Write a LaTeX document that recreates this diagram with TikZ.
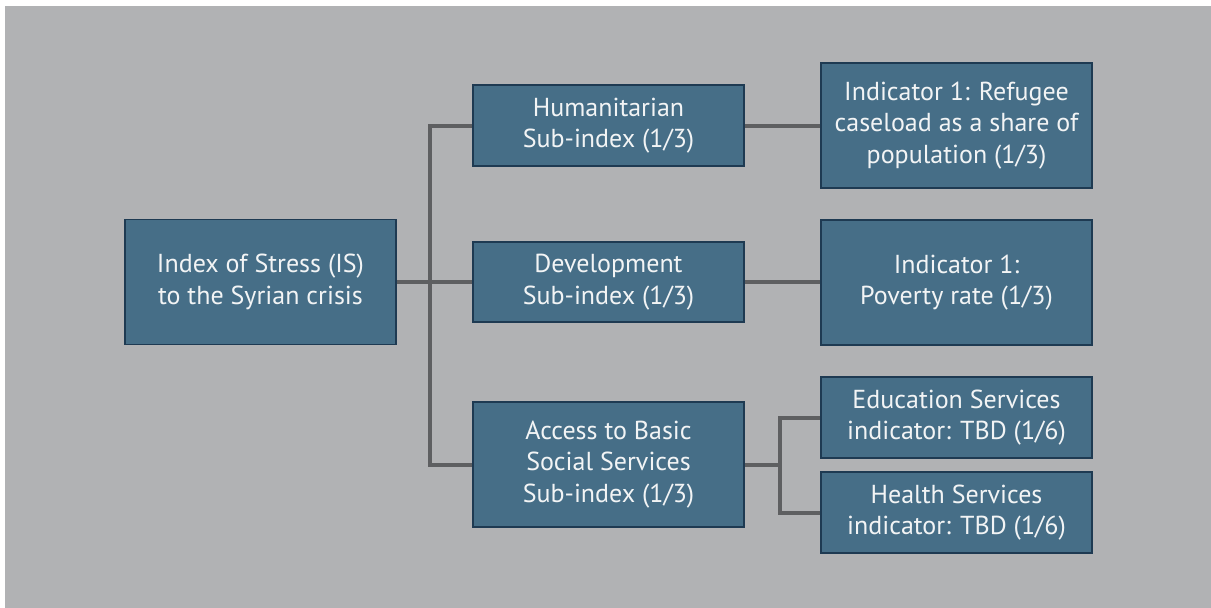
\documentclass[tikz,border=0pt]{standalone}
\usepackage{fontspec}
\setmainfont{PT Sans}
\usetikzlibrary{backgrounds}
\definecolor{bggray}{HTML}{B1B2B4}
\definecolor{boxfill}{HTML}{466E87}
\definecolor{boxline}{HTML}{1E3A52}
\definecolor{connline}{HTML}{5E5F61}
\definecolor{txt}{HTML}{F2F4F5}
\begin{document}
\begin{tikzpicture}[x=1pt,y=-1pt,
  boxnode/.style={draw=boxline, fill=boxfill, line width=1.5pt, text=txt,
    minimum width=271pt, inner sep=0pt, align=center,
    font=\fontsize{26}{31.5}\selectfont},
  conn/.style={draw=connline, line width=4pt, line join=miter}]
\useasboundingbox (0,0) rectangle (1211,608);
\coordinate (j1) at (430,282);
\coordinate (j2) at (780,464.5);
\node[boxnode, minimum height=125pt] (root) at (260.5,282) {Index of Stress (IS)\\to the Syrian crisis};
\node[boxnode, minimum height=81pt] (hum) at (608.5,125.5) {Humanitarian\\Sub-index (1/3)};
\node[boxnode, minimum height=80pt] (dev) at (608.5,282) {Development\\Sub-index (1/3)};
\node[boxnode, minimum height=125pt] (acc) at (608.5,464.5) {Access to Basic\\Social Services\\Sub-index (1/3)};
\node[boxnode, minimum height=125pt] (ref) at (956.5,125.5) {Indicator 1: Refugee\\caseload as a share of\\population (1/3)};
\node[boxnode, minimum height=125pt] (pov) at (956.5,282.5) {Indicator 1:\\Poverty rate (1/3)};
\node[boxnode, minimum height=81pt] (edu) at (956.5,417.5) {Education Services\\indicator: TBD (1/6)};
\node[boxnode, minimum height=81pt] (hea) at (956.5,512.5) {Health Services\\indicator: TBD (1/6)};
\begin{scope}[on background layer]
\fill[white] (0,0) rectangle (1211,608);
\fill[bggray] (5,6) rectangle (1211,608);
\path[conn] (hum.west) -| (j1) |- (acc.west);
\path[conn] (root.east) -- (dev.west);
\path[conn] (hum.east) -- (ref.west);
\path[conn] (dev.east) -- (dev.east -| pov.west);
\path[conn] (acc.east) -- (j2);
\path[conn] (edu.west) -| (j2) |- (hea.west);
\end{scope}
\end{tikzpicture}
\end{document}
